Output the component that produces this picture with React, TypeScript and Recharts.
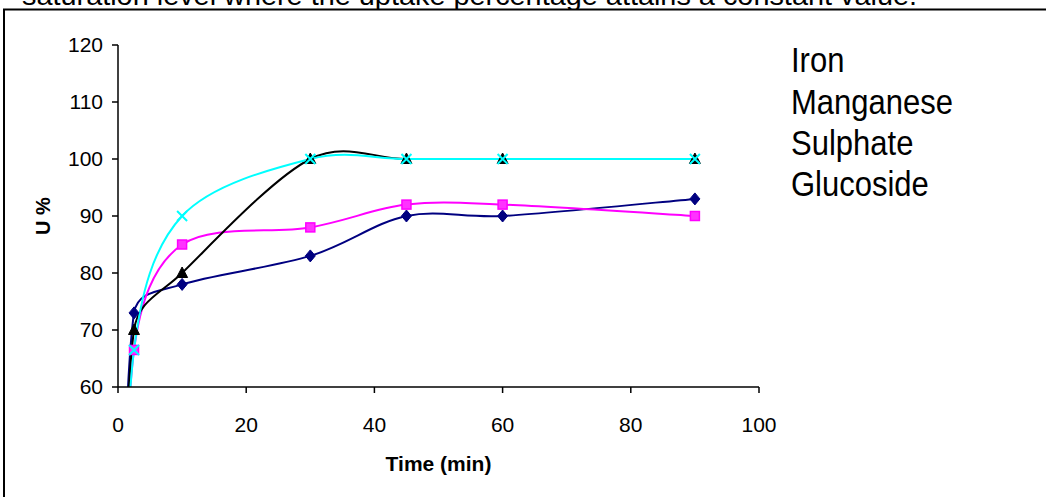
import React from 'react';
import { LineChart, Line, XAxis, YAxis, Legend, Label } from 'recharts';

const times = [0, 2.5, 10, 30, 45, 60, 90];
const iron = [0, 73, 78, 83, 90, 90, 93];
const manganese = [0, 66.5, 85, 88, 92, 92, 90];
const sulphate = [0, 70, 80, 100, 100, 100, 100];
const glucoside = [0, 66.5, 90, 100, 100, 100, 100];
const seriesNames = ['Iron', 'Manganese', 'Sulphate', 'Glucoside'];
const xTicks = [0, 20, 40, 60, 80, 100];
const yTicks = [60, 70, 80, 90, 100, 110, 120];
const xTitle = 'Time (min)';
const yTitle = 'U %';
const caption = 'saturation level where the uptake percentage attains a constant value.';

const data = times.map((t, i) => ({
  t,
  iron: iron[i],
  manganese: manganese[i],
  sulphate: sulphate[i],
  glucoside: glucoside[i],
}));

const FONT = '"Liberation Sans", Arial, sans-serif';

// Excel-like smoothed curve (Catmull-Rom style bezier with capped tangents)
const curveExcel = (context: any) => {
  let pts: number[][] = [];
  return {
    areaStart() {},
    areaEnd() {},
    lineStart() {
      pts = [];
    },
    point(x: number, y: number) {
      pts.push([+x, +y]);
    },
    lineEnd() {
      const n = pts.length;
      if (!n) return;
      context.moveTo(pts[0][0], pts[0][1]);
      for (let i = 0; i < n - 1; i++) {
        const p0 = pts[Math.max(i - 1, 0)];
        const p1 = pts[i];
        const p2 = pts[i + 1];
        const p3 = pts[Math.min(i + 2, n - 1)];
        const seg = Math.hypot(p2[0] - p1[0], p2[1] - p1[1]);
        const cap = seg * 0.4;
        let t1x = (p2[0] - p0[0]) / 6;
        let t1y = (p2[1] - p0[1]) / 6;
        const l1 = Math.hypot(t1x, t1y);
        if (l1 > cap && l1 > 0) {
          t1x *= cap / l1;
          t1y *= cap / l1;
        }
        let t2x = (p3[0] - p1[0]) / 6;
        let t2y = (p3[1] - p1[1]) / 6;
        const l2 = Math.hypot(t2x, t2y);
        if (l2 > cap && l2 > 0) {
          t2x *= cap / l2;
          t2y *= cap / l2;
        }
        context.bezierCurveTo(p1[0] + t1x, p1[1] + t1y, p2[0] - t2x, p2[1] - t2y, p2[0], p2[1]);
      }
    },
  };
};

const diamondDot = (props: any) => {
  const { cx, cy, index } = props;
  if (index === 0 || cx == null || cy == null) return <g key={`dm-${index}`} />;
  return (
    <path
      key={`dm-${index}`}
      d={`M${cx},${cy - 6}L${cx + 5},${cy}L${cx},${cy + 6}L${cx - 5},${cy}Z`}
      fill="#000080"
      stroke="#000080"
      strokeWidth={1}
    />
  );
};

const squareDot = (props: any) => {
  const { cx, cy, index } = props;
  if (index === 0 || cx == null || cy == null) return <g key={`sq-${index}`} />;
  return (
    <rect
      key={`sq-${index}`}
      x={cx - 4.5}
      y={cy - 4.5}
      width={9}
      height={9}
      fill="#FF33FF"
      stroke="#FF00FF"
      strokeWidth={1.5}
    />
  );
};

const triangleDot = (props: any) => {
  const { cx, cy, index } = props;
  if (index === 0 || cx == null || cy == null) return <g key={`tr-${index}`} />;
  return (
    <path
      key={`tr-${index}`}
      d={`M${cx},${cy - 6}L${cx + 5.5},${cy + 4.5}L${cx - 5.5},${cy + 4.5}Z`}
      fill="#000000"
      stroke="#000000"
      strokeWidth={1}
    />
  );
};

const crossDot = (props: any) => {
  const { cx, cy, index } = props;
  if (index === 0 || cx == null || cy == null) return <g key={`cx-${index}`} />;
  return (
    <path
      key={`cx-${index}`}
      d={`M${cx - 5},${cy - 5}L${cx + 5},${cy + 5}M${cx + 5},${cy - 5}L${cx - 5},${cy + 5}`}
      fill="none"
      stroke="#00FFFF"
      strokeWidth={2}
    />
  );
};

const renderLegend = (props: any) => {
  const payload = [...(props.payload || [])].sort(
    (a: any, b: any) => seriesNames.indexOf(a.value) - seriesNames.indexOf(b.value)
  );
  return (
    <div
      style={{
        fontFamily: FONT,
        fontSize: 31,
        lineHeight: '36px',
        color: '#000',
        transform: 'scaleY(1.15)',
        transformOrigin: 'top left',
        whiteSpace: 'nowrap',
      }}
    >
      {payload.map((p: any, i: number) => (
        <div key={i}>{p.value}</div>
      ))}
    </div>
  );
};

const XTitle = (props: any) => {
  const vb = props.viewBox || {};
  return (
    <text
      x={vb.x + vb.width / 2}
      y={471}
      textAnchor="middle"
      fontFamily={FONT}
      fontWeight="bold"
      fontSize={21}
      fill="#000"
    >
      {xTitle}
    </text>
  );
};

const YTitle = (props: any) => {
  const vb = props.viewBox || {};
  const cy = vb.y + vb.height / 2;
  return (
    <text
      x={50}
      y={cy}
      transform={`rotate(-90, 50, ${cy})`}
      textAnchor="middle"
      fontFamily={FONT}
      fontWeight="bold"
      fontSize={20}
      fill="#000"
    >
      {yTitle}
    </text>
  );
};

export default function App() {
  return (
    <div
      style={{
        position: 'absolute',
        left: 0,
        top: 0,
        width: 1046,
        height: 497,
        background: '#fff',
        overflow: 'hidden',
      }}
    >
      <svg
        width={1046}
        height={497}
        style={{ position: 'absolute', left: 0, top: 0 }}
      >
        <text
          x={22}
          y={5}
          fontFamily={FONT}
          fontSize={28}
          fill="#000"
          textLength={895}
          lengthAdjust="spacingAndGlyphs"
        >
          {caption}
        </text>
        <rect x={4} y={9.5} width={1100} height={600} fill="#fff" stroke="#000" strokeWidth={2} />
      </svg>
      <div style={{ position: 'absolute', left: 0, top: 0 }}>
        <LineChart
          width={1046}
          height={497}
          data={data}
          margin={{ top: 45, right: 287, bottom: 50, left: 48 }}
        >
          <XAxis
            dataKey="t"
            type="number"
            domain={[0, 100]}
            ticks={xTicks}
            interval={0}
            tickSize={6}
            tickMargin={24}
            height={60}
            axisLine={{ stroke: '#000', strokeWidth: 1.5 }}
            tickLine={{ stroke: '#000', strokeWidth: 1.5 }}
            tick={{ fill: '#000', fontFamily: FONT, fontSize: 21 }}
          >
            <Label content={<XTitle />} />
          </XAxis>
          <YAxis
            type="number"
            domain={[60, 120]}
            ticks={yTicks}
            interval={0}
            allowDataOverflow
            width={70}
            tickSize={6}
            tickMargin={9}
            axisLine={{ stroke: '#000', strokeWidth: 1.5 }}
            tickLine={{ stroke: '#000', strokeWidth: 1.5 }}
            tick={{ fill: '#000', fontFamily: FONT, fontSize: 21 }}
          >
            <Label content={<YTitle />} />
          </YAxis>
          <Legend
            layout="horizontal"
            verticalAlign="middle"
            align="center"
            content={renderLegend}
            wrapperStyle={{ left: 791, top: 40, width: 220, height: 170 }}
          />
          <Line
            name={seriesNames[0]}
            dataKey="iron"
            type={curveExcel as any}
            stroke="#000080"
            strokeWidth={2}
            dot={diamondDot}
            activeDot={false}
            isAnimationActive={false}
          />
          <Line
            name={seriesNames[1]}
            dataKey="manganese"
            type={curveExcel as any}
            stroke="#FF00FF"
            strokeWidth={2}
            dot={squareDot}
            activeDot={false}
            isAnimationActive={false}
          />
          <Line
            name={seriesNames[2]}
            dataKey="sulphate"
            type={curveExcel as any}
            stroke="#000000"
            strokeWidth={2}
            dot={triangleDot}
            activeDot={false}
            isAnimationActive={false}
          />
          <Line
            name={seriesNames[3]}
            dataKey="glucoside"
            type={curveExcel as any}
            stroke="#00FFFF"
            strokeWidth={2}
            dot={crossDot}
            activeDot={false}
            isAnimationActive={false}
          />
        </LineChart>
      </div>
    </div>
  );
}
